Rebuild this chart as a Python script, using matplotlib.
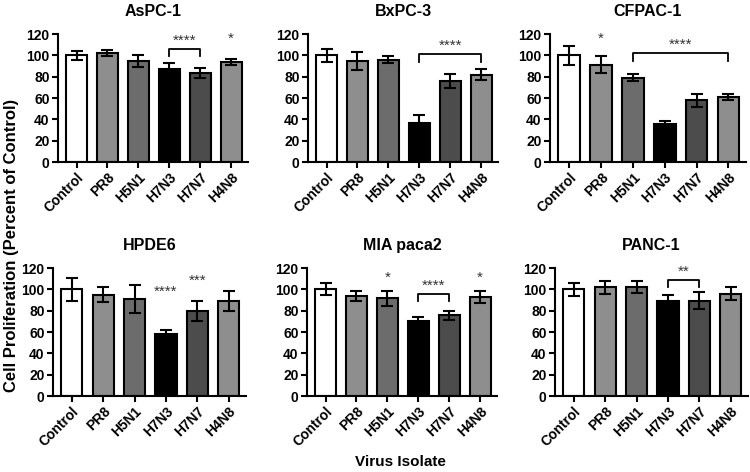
import numpy as np
import matplotlib
matplotlib.use("Agg")
import matplotlib.pyplot as plt

plt.rcParams['font.family'] = ['Liberation Sans', 'DejaVu Sans']
plt.rcParams['font.weight'] = 'bold'

isolates = ["Control", "PR8", "H5N1", "H7N3", "H7N7", "H4N8"]
bar_colors = ["white", "#8e8e8e", "#6c6c6c", "black", "#4c4c4c", "#8e8e8e"]

titles = ["AsPC-1", "BxPC-3", "CFPAC-1", "HPDE6", "MIA paca2", "PANC-1"]

aspc1_mean = [100, 102, 95, 87, 83, 94]
aspc1_err = [4, 3, 5.5, 5.5, 4.7, 3]
bxpc3_mean = [100, 95, 96, 37, 76, 82]
bxpc3_err = [6, 8.5, 3, 7, 6.5, 5.5]
cfpac1_mean = [100, 91, 79, 36, 58, 61]
cfpac1_err = [9, 8, 3.5, 2, 6, 2.5]
hpde6_mean = [100, 95, 91, 58, 80, 89]
hpde6_err = [10.5, 7, 13.5, 3.5, 9.5, 9.5]
mia_mean = [100, 93.5, 91.5, 70, 75.5, 93]
mia_err = [5.5, 4.7, 7, 4.5, 4, 5.6]
panc1_mean = [100, 102, 102, 89, 89.5, 96]
panc1_err = [6, 6, 5.5, 5.6, 8, 6]

means = [aspc1_mean, bxpc3_mean, cfpac1_mean, hpde6_mean, mia_mean, panc1_mean]
errs = [aspc1_err, bxpc3_err, cfpac1_err, hpde6_err, mia_err, panc1_err]

# significance: brackets (i, j, y, label) and single stars (i, y, label)
brackets = [
    [(3, 4, 106, "****")],
    [(3, 5, 101, "****")],
    [(2, 5, 102, "****")],
    [],
    [(3, 4, 96, "****")],
    [(3, 4, 109, "**")],
]
singles = [
    [(5, 109, "*")],
    [],
    [(1, 109, "*")],
    [(3, 91, "****"), (4, 101, "***")],
    [(2, 104, "*"), (5, 104, "*")],
    [],
]

W, H = 750, 472
fig = plt.figure(figsize=(7.5, 4.72), dpi=100)

# axes boxes in pixels: left, top, right, bottom
boxes = [(58, 34, 248, 162), (308, 34, 498, 162), (550, 34, 746, 162),
         (53, 268, 246, 396), (307, 268, 497, 396), (555, 268, 748, 396)]

x = np.arange(len(isolates))
for k in range(6):
    l, t, r, b = boxes[k]
    ax = fig.add_axes([l / W, 1 - b / H, (r - l) / W, (b - t) / H])
    ax.bar(x, means[k], width=0.68, color=bar_colors, edgecolor="black", linewidth=1.5, zorder=2)
    ax.errorbar(x, means[k], yerr=errs[k], fmt="none", ecolor="black", elinewidth=1.5,
                capsize=4, capthick=1.5, zorder=3)
    ax.set_xlim(-0.6, 5.55)
    ax.set_ylim(0, 120)
    ax.set_yticks(range(0, 121, 20))
    ax.set_xticks(x)
    ax.set_xticklabels(isolates, rotation=45, ha="right", rotation_mode="anchor")
    ax.tick_params(labelsize=10, width=1.5, length=4, pad=2)
    for lab in ax.get_xticklabels() + ax.get_yticklabels():
        lab.set_fontweight("bold")
    ax.spines["top"].set_visible(False)
    ax.spines["right"].set_visible(False)
    ax.spines["left"].set_linewidth(1.5)
    ax.spines["bottom"].set_linewidth(1.5)
    ax.set_title(titles[k], fontsize=11.5, fontweight="bold", pad=13)
    for i, j, y, lab in brackets[k]:
        ax.plot([i, i, j, j], [y - 7, y, y, y - 7], color="black", lw=1.3, clip_on=False)
        ax.text((i + j) / 2, y + 1, lab, ha="center", va="bottom", fontsize=11,
                fontweight="normal", color="#333333")
    for i, y, lab in singles[k]:
        ax.text(i, y, lab, ha="center", va="bottom", fontsize=11,
                fontweight="normal", color="#333333")

fig.text(12 / W, 1 - 245 / H, "Cell Proliferation (Percent of Control)", rotation=90,
         ha="center", va="center", fontsize=12, fontweight="bold")
fig.text(400 / W, 1 - 462 / H, "Virus Isolate", ha="center", va="center",
         fontsize=11, fontweight="bold")

fig.savefig("out.png", dpi=100)
